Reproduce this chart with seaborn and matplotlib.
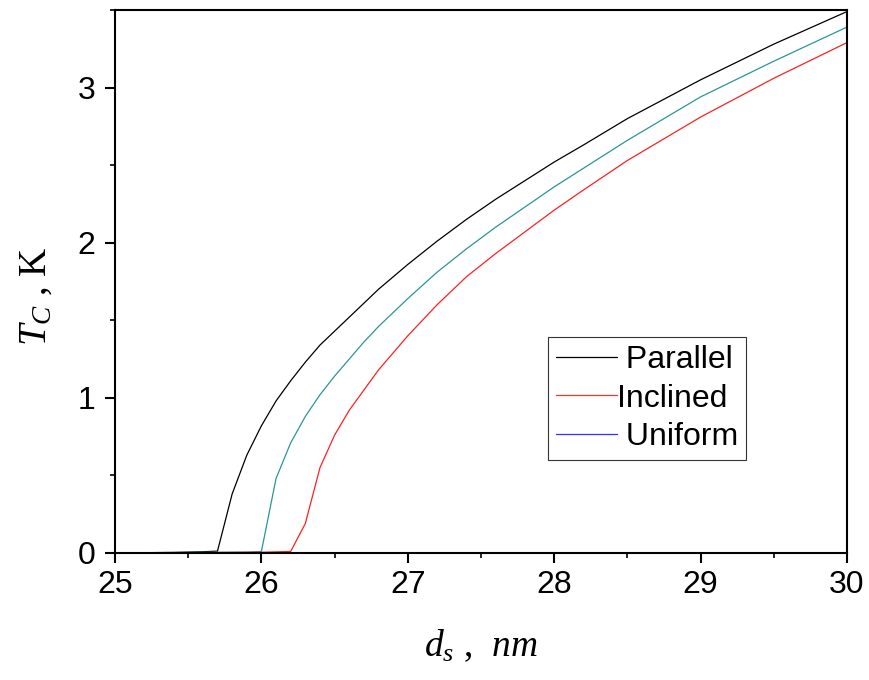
import numpy as np
import pandas as pd
import matplotlib
matplotlib.use("Agg")
import matplotlib.pyplot as plt
from matplotlib.lines import Line2D
from matplotlib.ticker import MultipleLocator
import seaborn as sns

# ---- data ----
par_x = [25.0, 25.2, 25.4, 25.6, 25.7, 25.8, 25.9, 26.0, 26.1, 26.2, 26.3, 26.4, 26.5, 26.6,
         26.7, 26.8, 27.0, 27.2, 27.4, 27.6, 27.8, 28.0, 28.2, 28.5, 29.0, 29.5, 30.0]
par_y = [0.0, 0.002, 0.004, 0.008, 0.012, 0.38, 0.63, 0.82, 0.98, 1.11, 1.23, 1.34, 1.43, 1.52,
         1.61, 1.70, 1.86, 2.01, 2.15, 2.28, 2.40, 2.52, 2.63, 2.80, 3.05, 3.28, 3.49]

uni_x = [25.0, 25.5, 25.9, 26.0, 26.1, 26.2, 26.3, 26.4, 26.5, 26.6, 26.7, 26.8, 27.0, 27.2,
         27.4, 27.6, 27.8, 28.0, 28.2, 28.5, 29.0, 29.5, 30.0]
uni_y = [0.0, 0.003, 0.006, 0.01, 0.48, 0.71, 0.88, 1.02, 1.14, 1.25, 1.36, 1.46, 1.64, 1.81,
         1.96, 2.10, 2.23, 2.36, 2.48, 2.66, 2.94, 3.17, 3.39]

inc_x = [25.0, 25.5, 26.0, 26.2, 26.3, 26.4, 26.5, 26.6, 26.7, 26.8, 27.0, 27.2, 27.4, 27.6,
         27.8, 28.0, 28.2, 28.5, 29.0, 29.5, 30.0]
inc_y = [0.0, 0.002, 0.005, 0.01, 0.19, 0.55, 0.76, 0.92, 1.05, 1.18, 1.40, 1.60, 1.78, 1.93,
         2.07, 2.21, 2.34, 2.53, 2.81, 3.06, 3.29]

labels = [" Parallel", "Inclined", " Uniform"]
x_ticks = [25, 26, 27, 28, 29, 30]
y_ticks = [0, 1, 2, 3]

# ---- style ----
sns.set_style("ticks")
plt.rcParams["font.family"] = ["Liberation Sans", "DejaVu Sans"]
plt.rcParams["mathtext.fontset"] = "custom"
plt.rcParams["mathtext.it"] = "Liberation Serif:italic"
plt.rcParams["mathtext.rm"] = "Liberation Serif"
for k in ["text.color", "axes.labelcolor", "xtick.color", "ytick.color"]:
    plt.rcParams[k] = "black"

W, H = 869, 680
fig = plt.figure(figsize=(W / 100, H / 100), dpi=100)
ax = fig.add_axes([115 / W, 1 - 553 / H, 732 / W, 543 / H])

sns.lineplot(x=par_x, y=par_y, ax=ax, color="black", linewidth=0.9)
sns.lineplot(x=uni_x, y=uni_y, ax=ax, color="#2A9696", linewidth=0.9)
sns.lineplot(x=inc_x, y=inc_y, ax=ax, color="#FF2020", linewidth=0.9)

ax.set_xlim(25, 30)
ax.set_ylim(0, 3.5)
ax.set_xticks(x_ticks)
ax.set_yticks(y_ticks)
ax.xaxis.set_minor_locator(MultipleLocator(0.5))
ax.yaxis.set_minor_locator(MultipleLocator(0.5))
ax.tick_params(axis="both", which="major", direction="out", length=7, width=1.5,
               labelsize=23, top=False, right=False)
ax.tick_params(axis="x", which="major", pad=5)
ax.tick_params(axis="y", which="major", pad=7)
ax.tick_params(axis="both", which="minor", direction="out", length=3.5, width=1.2,
               top=False, right=False)
for s in ax.spines.values():
    s.set_visible(True)
    s.set_linewidth(1.5)
    s.set_color("black")

ax.set_xlabel("")
ax.set_ylabel("")
fig.text(36 / W, 1 - 296 / H, r"$T_C$ , K", fontsize=28, family="Liberation Serif",
         rotation=90, ha="center", va="center")
fig.text(481 / W, 1 - 656 / H, r"$d_s$ ,  $nm$", fontsize=27, family="Liberation Serif",
         ha="center", va="baseline")

handles = [Line2D([], [], color="black", linewidth=0.9),
           Line2D([], [], color="#FF3030", linewidth=0.9),
           Line2D([], [], color="#3030FF", linewidth=0.9)]
leg = ax.legend(handles, labels, loc="upper left", bbox_to_anchor=(433 / 732, 216 / 543),
                fontsize=23, frameon=True, fancybox=False, edgecolor="black",
                handlelength=1.9, handletextpad=0.0, borderpad=0.25, labelspacing=0.27,
                borderaxespad=0)
leg.get_frame().set_linewidth(0.8)

fig.savefig("out.png", dpi=100)
